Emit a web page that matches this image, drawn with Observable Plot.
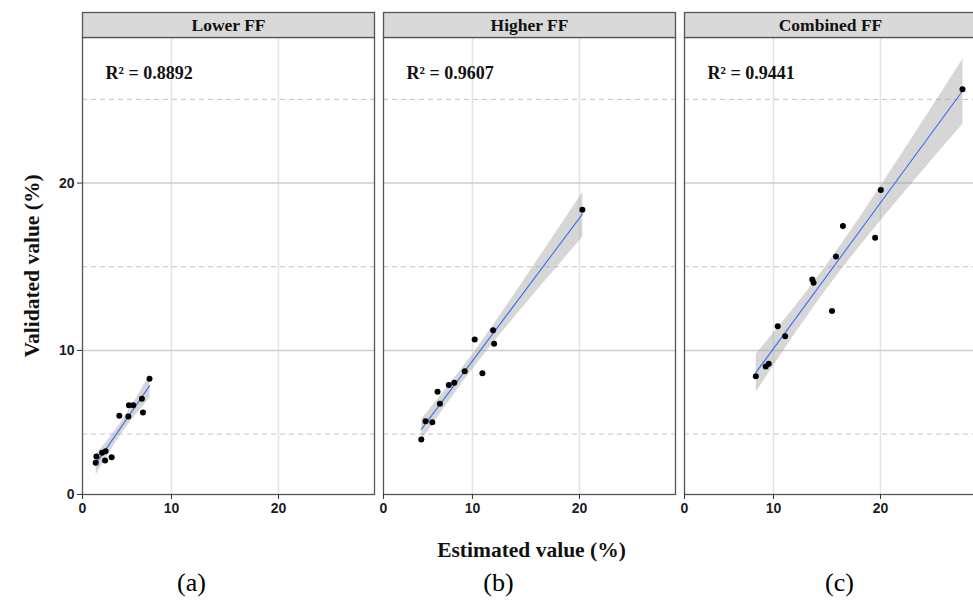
<!DOCTYPE html>
<html>
<head>
<meta charset="utf-8">
<script src="https://cdn.jsdelivr.net/npm/d3@7"></script>
<script src="https://cdn.jsdelivr.net/npm/@observablehq/plot@0.6"></script>
<style>
  html, body { margin: 0; padding: 0; background: #fff; overflow: hidden; }
</style>
</head>
<body>
<div id="chart"></div>
<script>
// ---- data ----
const panels = ["Lower FF", "Higher FF", "Combined FF"];
const captions = ["(a)", "(b)", "(c)"];
const r2Labels = ["R\u00B2 = 0.8892", "R\u00B2 = 0.9607", "R\u00B2 = 0.9441"];

const lowerX = [2.99, 2.92, 3.52, 3.85, 3.80, 4.41, 5.13, 5.97, 6.03, 6.43, 7.24, 7.34, 7.95];
const lowerY = [3.66, 3.29, 3.89, 3.98, 3.42, 3.62, 6.10, 6.05, 6.73, 6.73, 7.11, 6.29, 8.31];

const higherX = [5.22, 5.62, 6.25, 6.74, 6.96, 7.79, 8.30, 9.28, 10.93, 10.21, 11.93, 12.02, 20.27];
const higherY = [4.68, 5.77, 5.71, 7.53, 6.81, 7.93, 8.07, 8.76, 8.64, 10.66, 11.20, 10.40, 18.41];

const combinedX = [8.35, 9.28, 9.56, 10.40, 11.09, 13.63, 13.75, 15.47, 15.84, 16.49, 19.50, 20.03, 27.66];
const combinedY = [8.45, 9.04, 9.21, 11.45, 10.85, 14.24, 14.05, 12.35, 15.62, 17.43, 16.74, 19.58, 25.60];

const xTickLabels = ["0", "10", "20"];
const yTickLabels = ["0", "10", "20"];
const majorGrid = [10, 20];
const minorGridY = [5, 15, 25];

const xTitle = "Estimated value (%)";
const yTitle = "Validated value (%)";

// ---- build table ----
const series = [[lowerX, lowerY], [higherX, higherY], [combinedX, combinedY]];
const points = series.flatMap(([xs, ys], k) => xs.map((x, i) => ({panel: panels[k], x, y: ys[i]})));
const panelRows = panels.map((p, i) => ({panel: p, r2: r2Labels[i], caption: captions[i]}));

const xDomain = [1.69, 28.97];
const yDomain = [1.39, 28.7];
const xTicks = [xDomain[0], 10, 20];
const yTicks = [yDomain[0], 10, 20];

const serif = "'Liberation Serif', 'Times New Roman', serif";
const narrow = "'Liberation Sans Narrow', 'Liberation Sans', Arial, sans-serif";

const plot = Plot.plot({
  width: 973,
  height: 602,
  marginLeft: 81,
  marginRight: -3,
  marginTop: 37,
  marginBottom: 108,
  style: {background: "white", fontFamily: serif},
  fx: {domain: panels, paddingInner: 0.03, paddingOuter: 0, axis: null, label: null},
  x: {domain: xDomain, axis: null},
  y: {domain: yDomain, axis: null},
  marks: [
    // grid
    Plot.ruleY(minorGridY, {stroke: "#c4c4c4", strokeWidth: 1, strokeDasharray: "5,4"}),
    Plot.ruleX(majorGrid, {stroke: "#e3e3e3", strokeWidth: 1.5}),
    Plot.ruleY(majorGrid, {stroke: "#cdcdcd", strokeWidth: 1.5}),
    // regression with 95% CI
    Plot.linearRegressionY(points, {
      x: "x", y: "y", fx: "panel",
      stroke: "#3a6ef2", strokeWidth: 1.1,
      fill: "#999999", fillOpacity: 0.4, ci: 0.95
    }),
    Plot.dot(points, {x: "x", y: "y", fx: "panel", r: 3, fill: "#000", stroke: "none"}),
    // panel frame
    Plot.frame({stroke: "#555", strokeWidth: 1.3}),
    // header strips
    Plot.frame({fill: "#d9d9d9", stroke: "#555", strokeWidth: 1.3, insetTop: -25, insetBottom: 457}),
    Plot.text(panelRows, {fx: "panel", text: "panel", frameAnchor: "top", dy: -12, lineAnchor: "middle",
      fontFamily: serif, fontWeight: "bold", fontSize: 17.5, fill: "#111"}),
    // R² labels
    Plot.text(panelRows, {fx: "panel", text: "r2", frameAnchor: "top-left", dx: 23, dy: 36, lineAnchor: "middle",
      textAnchor: "start", fontFamily: serif, fontWeight: "bold", fontSize: 18, fill: "#111"}),
    // axes
    Plot.axisX({ticks: xTicks, tickFormat: d => xTickLabels[xTicks.indexOf(d)], tickSize: 5, tickPadding: 4,
      stroke: "#333", fill: "#1d1d24", fontFamily: narrow, fontWeight: "bold", fontSize: 14, label: null}),
    Plot.axisY({ticks: yTicks, tickFormat: d => yTickLabels[yTicks.indexOf(d)], tickSize: 5, tickPadding: 3,
      stroke: "#333", fill: "#1d1d24", fontFamily: narrow, fontWeight: "bold", fontSize: 14, label: null}),
    // axis titles
    Plot.text([xTitle], {fx: () => panels[1], text: d => d, frameAnchor: "bottom", dy: 56, dx: 2, lineAnchor: "middle",
      textAnchor: "middle", fontFamily: serif, fontWeight: "bold", fontSize: 21.5, fill: "#111"}),
    Plot.text([yTitle], {fx: () => panels[0], text: d => d, frameAnchor: "left", dx: -50, rotate: -90, lineAnchor: "middle",
      textAnchor: "middle", fontFamily: serif, fontWeight: "bold", fontSize: 21.5, fill: "#111"}),
    // captions
    Plot.text(panelRows.slice(0, 1), {fx: "panel", text: "caption", frameAnchor: "bottom", dy: 88, dx: -37, lineAnchor: "middle",
      textAnchor: "middle", fontFamily: serif, fontSize: 26, fill: "#000"}),
    Plot.text(panelRows.slice(1, 2), {fx: "panel", text: "caption", frameAnchor: "bottom", dy: 88, dx: -31, lineAnchor: "middle",
      textAnchor: "middle", fontFamily: serif, fontSize: 26, fill: "#000"}),
    Plot.text(panelRows.slice(2, 3), {fx: "panel", text: "caption", frameAnchor: "bottom", dy: 88, dx: 9, lineAnchor: "middle",
      textAnchor: "middle", fontFamily: serif, fontSize: 26, fill: "#000"})
  ]
});
document.getElementById("chart").appendChild(plot);
</script>
</body>
</html>
